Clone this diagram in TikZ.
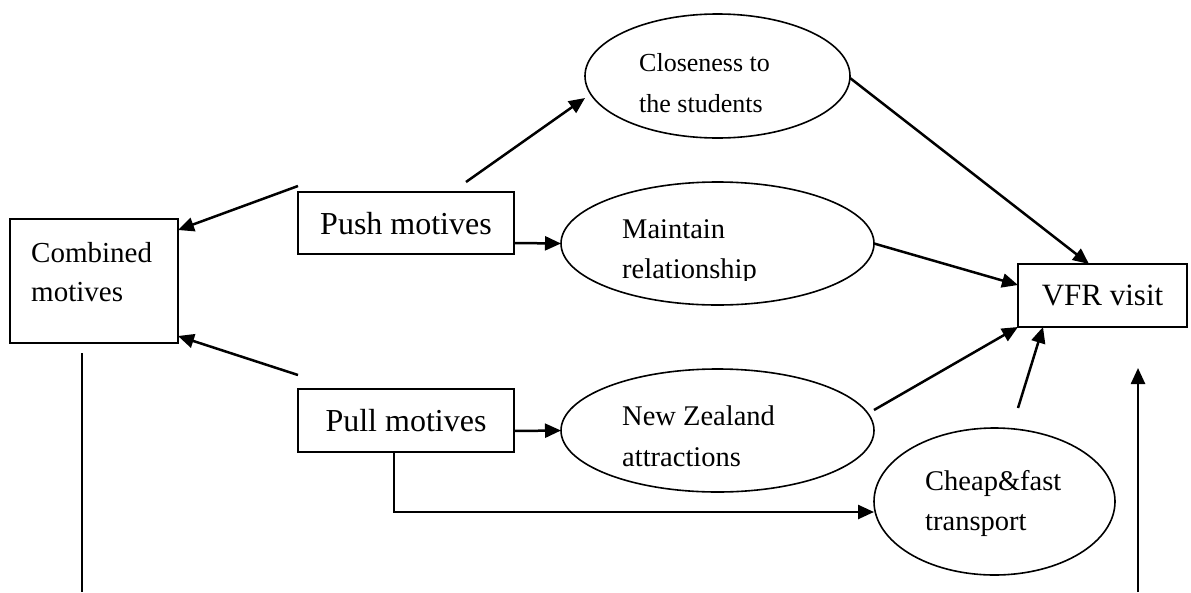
\documentclass[tikz,border=0pt]{standalone}
\usepackage{fontspec}
\setmainfont{Liberation Serif}
\usetikzlibrary{arrows.meta,shapes.geometric}
\begin{document}
\begin{tikzpicture}[x=1pt,y=-1pt]
\tikzset{
  frame/.style={draw=black, line width=1.8pt, rectangle, inner sep=0pt, outer sep=0pt},
  oval/.style={draw=black, line width=1.6pt, ellipse, inner sep=0pt, outer sep=0pt},
  flow/.style={line width=2.5pt, -{Triangle[length=16pt,width=14pt]}},
  rule/.style={line width=2.4pt},
  bigtext/.style={font=\fontsize{32}{38}\selectfont, text depth=0pt},
  boxtext/.style={font=\fontsize{29}{35}\selectfont, anchor=base west, inner sep=0pt},
  ovaltext/.style={font=\fontsize{28.5}{34}\selectfont, anchor=base west, inner sep=0pt},
  smalltext/.style={font=\fontsize{26}{31}\selectfont, anchor=base west, inner sep=0pt},
}
\useasboundingbox (0,0) rectangle (1191,592);

% boxes
\node[frame, minimum width=168, minimum height=124] (comb) at (94,281) {};
\node[boxtext] (comb-l1) at (31,262) {Combined};
\node[boxtext] (comb-l2) at (31,301) {motives};

\node[frame, bigtext, minimum width=216, minimum height=62] (push) at (406,223) {Push motives};
\node[frame, bigtext, minimum width=216, minimum height=63] (pull) at (406,420.5) {Pull motives};
\node[frame, font=\fontsize{31}{37}\selectfont, text depth=0pt, minimum width=169, minimum height=63] (vfr) at (1102.5,295.5) {VFR visit};

% ellipses
\node[oval, minimum width=265, minimum height=124] (close) at (717.5,76) {};
\node[smalltext] (close-l1) at (639,71) {Closeness to};
\node[smalltext] (close-l2) at (639,112) {the students};

\node[oval, minimum width=313, minimum height=123] (maint) at (717.5,243.5) {};
\node[ovaltext] (maint-l1) at (622,238) {Maintain};
\begin{scope}
  \clip (600,250) rectangle (860,280);
  \node[ovaltext] (maint-l2) at (622,278) {relationship};
\end{scope}

\node[oval, minimum width=313, minimum height=123] (nz) at (717.5,430.5) {};
\node[ovaltext] (nz-l1) at (622,425) {New Zealand};
\node[ovaltext] (nz-l2) at (622,466) {attractions};

\node[oval, minimum width=241, minimum height=147] (cheap) at (994.5,501.5) {};
\node[ovaltext] (cheap-l1) at (925,490) {Cheap\&fast};
\node[ovaltext] (cheap-l2) at (925,530) {transport};

% free ends of the open lines
\coordinate (left-foot) at (82,592);
\coordinate (right-foot) at (1138,592);
\coordinate (right-tip) at (1138,368);

% connectors
\draw[flow] ([yshift=6pt]push.north west) -- ([yshift=51pt]comb.east);
\draw[flow] ([yshift=14pt]pull.north west) -- ([yshift=-55pt]comb.east);
\draw[rule] ([shift={(-12pt,-10pt)}]comb.south) -- (left-foot);

\draw[flow] ([shift={(60pt,10pt)}]push.north) -- ([yshift=-22pt]close.west);
\draw[flow] ([yshift=-20pt]push.east) -- (maint.west);
\draw[flow] ([yshift=-10.5pt]pull.east) -- (nz.west);
\draw[flow] ([xshift=-12pt]pull.south) |- ([yshift=-10.5pt]cheap.west);

\draw[flow] ([yshift=-2pt]close.east) -- ([xshift=-13.5pt]vfr.north);
\draw[flow] (maint.east) -- ([yshift=10.5pt]vfr.west);
\draw[flow] ([yshift=20.5pt]nz.east) -- (vfr.south west);
\draw[flow] ([shift={(23.5pt,20pt)}]cheap.north) -- ([xshift=25pt]vfr.south west);
\draw[flow] (right-foot) -- (right-tip);
\end{tikzpicture}
\end{document}
